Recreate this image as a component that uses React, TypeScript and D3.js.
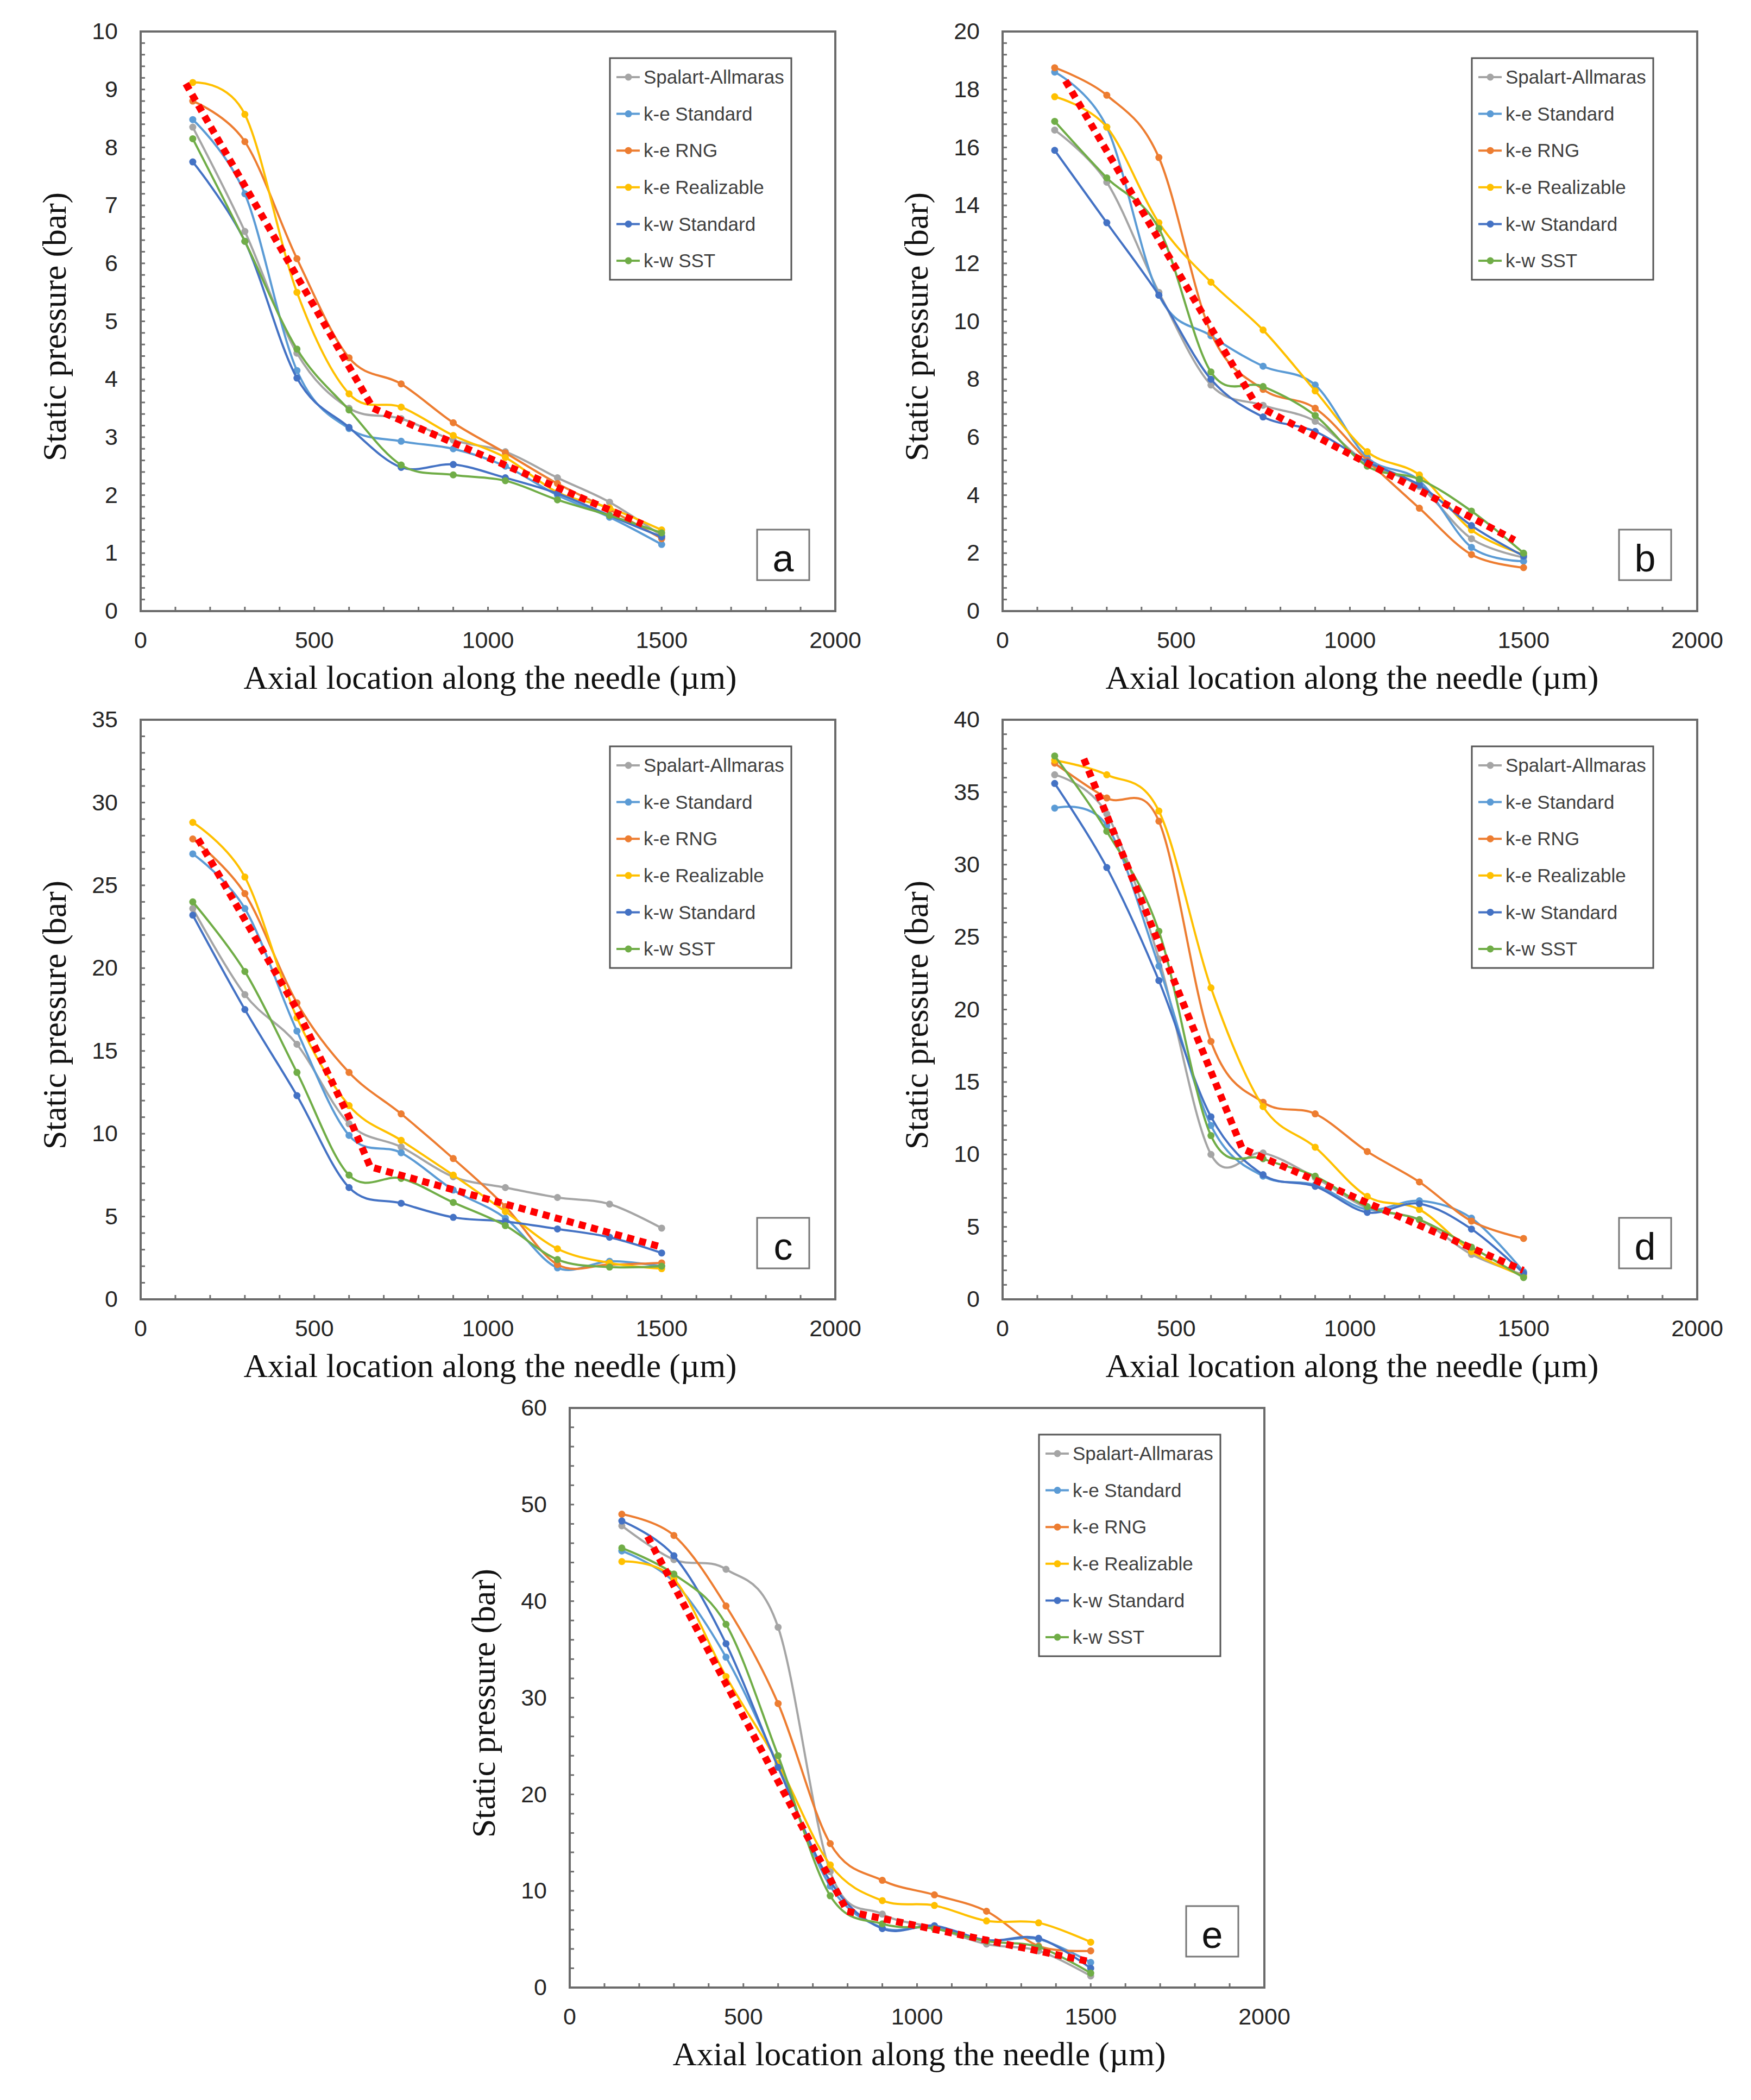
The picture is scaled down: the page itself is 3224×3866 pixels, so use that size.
import * as d3 from "d3";

// axial sample positions (µm) shared by all panels
const axialLocations = [150, 300, 450, 600, 750, 900, 1050, 1200, 1350, 1500];
const xTickValues = [0, 500, 1000, 1500, 2000];

const modelNames = [
  "Spalart-Allmaras",
  "k-e Standard",
  "k-e RNG",
  "k-e Realizable",
  "k-w Standard",
  "k-w SST",
];
const modelColors = ["#a5a5a5", "#5b9bd5", "#ed7d31", "#ffc000", "#4472c4", "#70ad47"];

const panelLetters = ["a", "b", "c", "d", "e"];
const yMaxima = [10, 20, 35, 40, 60];
const yMajorSteps = [1, 2, 5, 5, 10];

// static pressure (bar), one row per model in modelNames order
const pressureA = [
  [8.35, 6.55, 4.45, 3.5, 3.32, 2.95, 2.75, 2.3, 1.88, 1.3],
  [8.48, 7.2, 4.15, 3.15, 2.93, 2.8, 2.5, 2.0, 1.62, 1.15],
  [8.8, 8.1, 6.08, 4.37, 3.92, 3.25, 2.73, 2.2, 1.75, 1.25],
  [9.12, 8.57, 5.5, 3.75, 3.52, 3.03, 2.65, 2.05, 1.78, 1.4],
  [7.75, 6.38, 4.02, 3.17, 2.48, 2.53, 2.3, 2.03, 1.65, 1.28],
  [8.15, 6.38, 4.52, 3.47, 2.52, 2.35, 2.25, 1.92, 1.65, 1.35],
];
const pressureB = [
  [16.6, 14.8, 11.0, 7.8, 7.1, 6.55, 5.1, 4.3, 2.5, 1.85],
  [18.6, 16.7, 10.9, 9.5, 8.45, 7.8, 5.3, 4.5, 2.2, 1.72],
  [18.75, 17.8, 15.65, 9.6, 7.65, 7.0, 5.2, 3.55, 1.95, 1.5],
  [17.75, 16.7, 13.4, 11.35, 9.7, 7.6, 5.5, 4.7, 2.8, 1.95],
  [15.9, 13.4, 10.9, 8.0, 6.7, 6.2, 5.15, 4.35, 2.95, 1.9],
  [16.9, 14.95, 13.2, 8.25, 7.75, 6.75, 5.0, 4.55, 3.45, 2.0],
];
const pressureC = [
  [23.6, 18.4, 15.4, 10.6, 9.2, 7.4, 6.75, 6.15, 5.75, 4.3],
  [26.9, 23.6, 16.2, 9.9, 8.85, 6.6, 4.9, 1.9, 2.3, 2.0],
  [27.8, 24.5, 17.9, 13.7, 11.2, 8.5, 5.6, 2.1, 2.1, 2.2],
  [28.8, 25.5, 17.0, 11.7, 9.6, 7.5, 5.3, 3.05, 2.2, 1.85],
  [23.2, 17.5, 12.3, 6.75, 5.8, 4.95, 4.7, 4.25, 3.75, 2.8],
  [24.0, 19.8, 13.7, 7.5, 7.3, 5.85, 4.45, 2.4, 1.95, 2.0],
];
const pressureD = [
  [36.2, 33.5, 23.5, 10.0, 10.1, 8.4, 6.3, 5.5, 3.1, 1.7],
  [33.9, 32.7, 23.0, 12.0, 8.5, 7.9, 6.2, 6.8, 5.6, 1.9],
  [37.0, 34.6, 33.0, 17.8, 13.6, 12.8, 10.2, 8.1, 5.4, 4.2],
  [37.2, 36.2, 33.7, 21.5, 13.3, 10.5, 7.1, 6.2, 3.3, 1.6],
  [35.6, 29.8, 22.0, 12.6, 8.6, 7.8, 6.0, 6.6, 4.85, 1.8],
  [37.5, 32.3, 25.4, 11.3, 9.7, 8.5, 6.4, 5.5, 3.6, 1.5],
];
const pressureE = [
  [47.8, 44.3, 43.3, 37.3, 12.0, 7.6, 6.2, 4.5, 3.8, 1.2],
  [45.2, 42.0, 34.2, 23.0, 10.5, 6.2, 6.3, 4.9, 5.0, 2.6],
  [49.0, 46.8, 39.5, 29.4, 14.9, 11.1, 9.6, 7.9, 4.3, 3.8],
  [44.1, 42.3, 32.2, 23.2, 12.7, 9.0, 8.5, 6.9, 6.7, 4.7],
  [48.3, 44.7, 35.6, 22.8, 11.0, 6.1, 6.4, 4.9, 5.1, 2.0],
  [45.5, 42.8, 37.6, 24.0, 9.5, 6.6, 6.1, 4.8, 4.2, 1.5],
];

// red dotted reference trend: [axial location, pressure]
const trendA = [[130, 9.1], [669, 3.5], [1445, 1.5]];
const trendB = [[181, 18.3], [731, 7.1], [1474, 2.45]];
const trendC = [[165, 27.8], [450, 17.5], [600, 11.0], [661, 8.0], [1492, 3.2]];
const trendD = [[234, 37.3], [690, 10.4], [1499, 2.0]];
const trendE = [[224, 46.7], [799, 7.9], [1500, 2.66]];

const allPressures = [pressureA, pressureB, pressureC, pressureD, pressureE];
const allTrends = [trendA, trendB, trendC, trendD, trendE];

// layout
const W = 1279;
const H = 1067;
const panelOrigins = [
  [259, 58],
  [1846, 58],
  [259, 1325],
  [1846, 1325],
  [1049, 2592],
];
const SANS = "'Liberation Sans', Arial, sans-serif";
const SERIF = "'Liberation Serif', 'Times New Roman', serif";

const Panel = ({ index }: { index: number }) => {
  const [ox, oy] = panelOrigins[index];
  const yMax = yMaxima[index];
  const step = yMajorSteps[index];

  const x = d3.scaleLinear().domain([0, 2000]).range([0, W]);
  const y = d3.scaleLinear().domain([0, yMax]).range([H, 0]);

  const yMajor = d3.range(0, yMax + step / 2, step);
  const yMinor = d3.range(0, yMax + step / 10, step / 5);
  const xMinor = d3.range(0, 2001, 100);

  const line = d3
    .line<number>()
    .x((_, i) => x(axialLocations[i]))
    .y((d) => y(d))
    .curve(d3.curveCardinal.tension(0));

  const trendLine = d3
    .line<number[]>()
    .x((d) => x(d[0]))
    .y((d) => y(d[1]));

  const series = allPressures[index];
  const legendX = 864;
  const legendY = 49;

  return (
    <g transform={`translate(${ox}, ${oy})`}>
      {/* ticks (inside) */}
      {yMinor.map((t, i) => (
        <line key={"ym" + i} x1={0} x2={8} y1={y(t)} y2={y(t)} stroke="#707070" strokeWidth={3} />
      ))}
      {xMinor.map((t, i) => (
        <line key={"xm" + i} x1={x(t)} x2={x(t)} y1={H} y2={H - 8} stroke="#707070" strokeWidth={3} />
      ))}

      {/* tick labels */}
      {yMajor.map((t, i) => (
        <text
          key={"yl" + i}
          x={-42}
          y={y(t)}
          dy="0.33em"
          textAnchor="end"
          fontFamily={SANS}
          fontSize={43}
          fill="#262626"
        >
          {t}
        </text>
      ))}
      {xTickValues.map((t, i) => (
        <text
          key={"xl" + i}
          x={x(t)}
          y={H + 68}
          textAnchor="middle"
          fontFamily={SANS}
          fontSize={43}
          fill="#262626"
        >
          {t}
        </text>
      ))}

      {/* axis titles */}
      <text
        x={W / 2 + 4}
        y={H + 143}
        textAnchor="middle"
        fontFamily={SERIF}
        fontSize={61.5}
        fill="#111"
      >
        Axial location along the needle (µm)
      </text>
      <text
        transform={`translate(-138, ${H / 2 + 10}) rotate(-90)`}
        textAnchor="middle"
        fontFamily={SERIF}
        fontSize={61.5}
        fill="#111"
      >
        Static pressure (bar)
      </text>

      {/* model curves */}
      {series.map((vals, s) => (
        <g key={"s" + s}>
          <path d={line(vals) || undefined} fill="none" stroke={modelColors[s]} strokeWidth={4} />
          {vals.map((v, i) => (
            <circle key={i} cx={x(axialLocations[i])} cy={y(v)} r={6.5} fill={modelColors[s]} />
          ))}
        </g>
      ))}

      {/* red dotted trend */}
      <path
        d={trendLine(allTrends[index]) || undefined}
        fill="none"
        stroke="#ff0000"
        strokeWidth={13}
        strokeDasharray="13 10"
      />

      {/* plot frame */}
      <rect x={0} y={0} width={W} height={H} fill="none" stroke="#6b6b6b" strokeWidth={4} />

      {/* legend */}
      <rect x={legendX} y={legendY} width={334} height={408} fill="#fff" stroke="#555" strokeWidth={3} />
      {modelNames.map((name, s) => {
        const ly = legendY + 35 + s * 67.6;
        return (
          <g key={"lg" + s}>
            <line x1={legendX + 12} x2={legendX + 55} y1={ly} y2={ly} stroke={modelColors[s]} strokeWidth={4} />
            <circle cx={legendX + 34} cy={ly} r={6.5} fill={modelColors[s]} />
            <text
              x={legendX + 62}
              y={ly}
              dy="0.35em"
              fontFamily={SANS}
              fontSize={35}
              fill="#404040"
            >
              {name}
            </text>
          </g>
        );
      })}

      {/* panel letter */}
      <rect x={1135} y={917} width={96} height={93} fill="#fff" stroke="#777" strokeWidth={3} />
      <text x={1183} y={994} textAnchor="middle" fontFamily={SANS} fontSize={70} fill="#111">
        {panelLetters[index]}
      </text>
    </g>
  );
};

export default function App() {
  return (
    <svg
      width={3224}
      height={3866}
      style={{ position: "absolute", left: 0, top: 0, background: "#fff" }}
    >
      <rect x={0} y={0} width={3224} height={3866} fill="#fff" />
      {panelLetters.map((_, i) => (
        <Panel key={i} index={i} />
      ))}
    </svg>
  );
}
